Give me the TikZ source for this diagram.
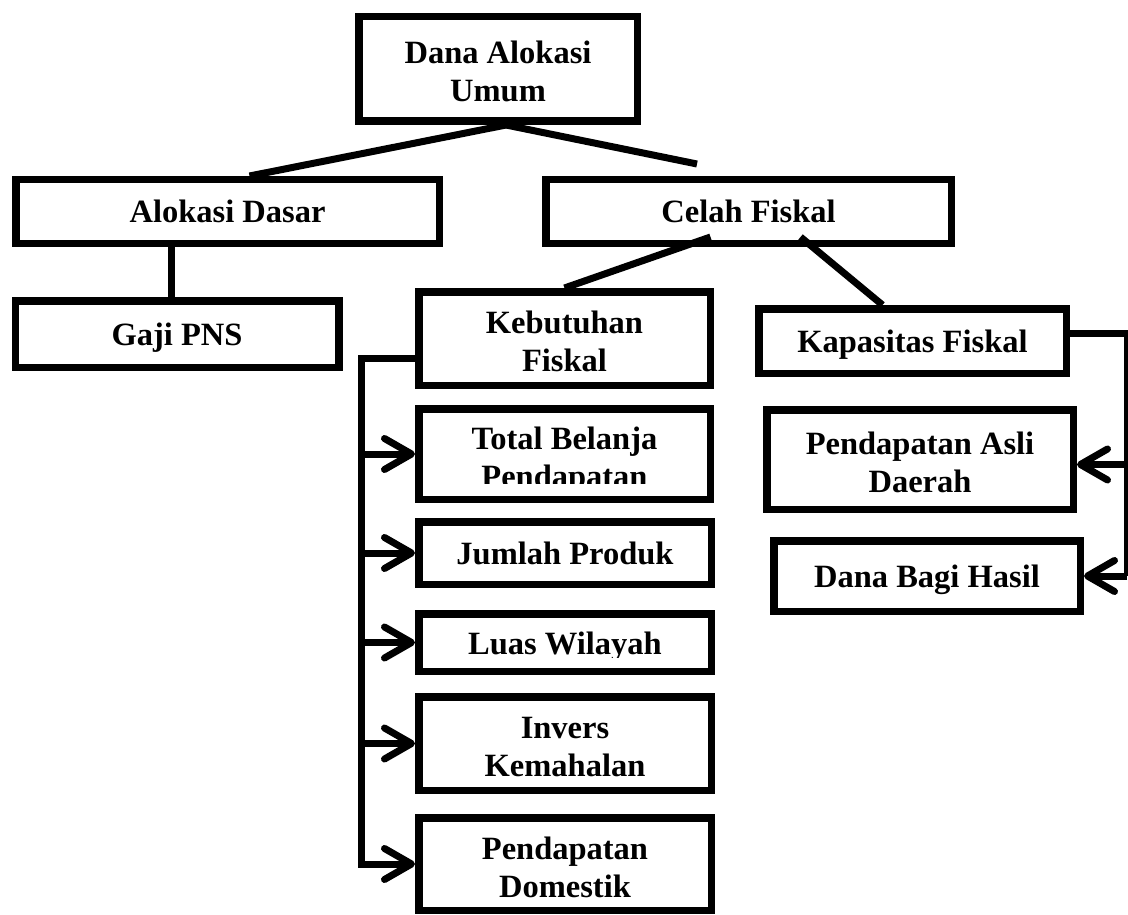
\documentclass[tikz,border=0pt]{standalone}
\usepackage{fontspec}
\setmainfont{Liberation Serif}
\usepackage{tikz}
\usetikzlibrary{arrows.meta,calc}

\begin{document}
\begin{tikzpicture}[x=1pt,y=-1pt]
        \tikzstyle{box}=[draw, line width=7.5pt, inner sep=0pt, align=center, font=\bfseries\fontsize{32.5}{38}\selectfont];
        \tikzstyle{oneline}=[text height=24pt, text depth=2pt];
        \tikzstyle{twoline}=[text height=68pt, text depth=2pt];
        \tikzstyle{link}=[line width=7pt];
        \tikzstyle{feed}=[line width=7pt, -{Straight Barb[length=27pt,width=31pt,round]}];
        \useasboundingbox (0,0) rectangle (1128,915);

        % Define the top box and the two main branches
        \node[box, twoline, minimum width=278.5pt, minimum height=104.5pt] (dau) at (498,69) {Dana Alokasi\\Umum};
        \node[box, oneline, minimum width=423.5pt, minimum height=63.5pt] (dasar) at (227.5,211.5) {Alokasi Dasar};
        \node[box, oneline, minimum width=405.5pt, minimum height=63.5pt] (celah) at (748.5,211.5) {Celah Fiskal};
        \node[box, oneline, minimum width=323.5pt, minimum height=66.5pt] (gaji) at (177,334) {Gaji PNS};

        % Left column under Kebutuhan Fiskal
        \node[box, twoline, minimum width=291.5pt, minimum height=93.5pt] (keb) at (564.5,338.5) {Kebutuhan\\Fiskal};
        \node[box, minimum width=291.5pt, minimum height=90.5pt] (tbp) at (564.5,454) {};
        \begin{scope}
            \clip ([shift={(7.5pt,-7.5pt)}]tbp.north west) rectangle ([shift={(-7.5pt,20pt)}]tbp.south east);
            \node[box, twoline, draw=none] (tbptext) at (tbp.center) {Total Belanja\\Pendapatan};
        \end{scope}
        \node[box, oneline, minimum width=292.5pt, minimum height=62.5pt] (jp) at (565,553) {Jumlah Produk};
        \node[box, minimum width=292.5pt, minimum height=57.5pt] (lw) at (565,642.5) {};
        \begin{scope}
            \clip ([shift={(7.5pt,-7.5pt)}]lw.north west) rectangle ([shift={(-7.5pt,18pt)}]lw.south east);
            \node[box, oneline, draw=none] (lwtext) at ([yshift=-1pt]lw.center) {Luas Wilayah};
        \end{scope}
        \node[box, twoline, minimum width=292.5pt, minimum height=93.5pt] (ik) at (565,743.5) {Invers\\Kemahalan};
        \node[box, twoline, minimum width=292.5pt, minimum height=92.5pt] (pd) at (565,864) {Pendapatan\\Domestik};

        % Right column under Kapasitas Fiskal
        \node[box, oneline, minimum width=307.5pt, minimum height=64.5pt] (kap) at (912.5,341) {Kapasitas Fiskal};
        \node[box, twoline, minimum width=306.5pt, minimum height=99.5pt] (pad) at (920,459.5) {Pendapatan Asli\\Daerah};
        \node[box, oneline, minimum width=306.5pt, minimum height=70.5pt] (dbh) at (927,576) {Dana Bagi Hasil};

        % Connectors
        \coordinate (celahtip) at (697,164);
        \draw[link] ([xshift=8pt]dau.south) -- ([xshift=22pt]dasar.north);
        \draw[link] ([xshift=8pt]dau.south) -- (celahtip);
        \draw[link] ([xshift=-6pt]gaji.north) -- ([xshift=-6pt]gaji.north |- dasar.south);
        \draw[link] ([xshift=-38pt,yshift=10pt]celah.south) -- (keb.north);
        \draw[link] ([xshift=52pt,yshift=10pt]celah.south) -- ([xshift=-30pt]kap.north);

        % Bus on the left
        \coordinate (bus) at (361,358);
        \draw[feed] (keb.west |- bus) -- (bus) |- (pd.west);
        \foreach \n in {tbp,jp,lw,ik}
            \draw[feed] (bus |- \n.west) -- (\n.west);

        % Bus on the right
        \coordinate (rbus) at (1127,333);
        \coordinate (padin) at ([yshift=-5pt]pad.east);
        \draw[link] ([yshift=8pt]kap.east) -- (rbus) -- (rbus |- dbh.east);
        \draw[feed] (rbus |- padin) -- (padin);
        \draw[feed] (rbus |- dbh.east) -- (dbh.east);
    \end{tikzpicture}
\end{document}
